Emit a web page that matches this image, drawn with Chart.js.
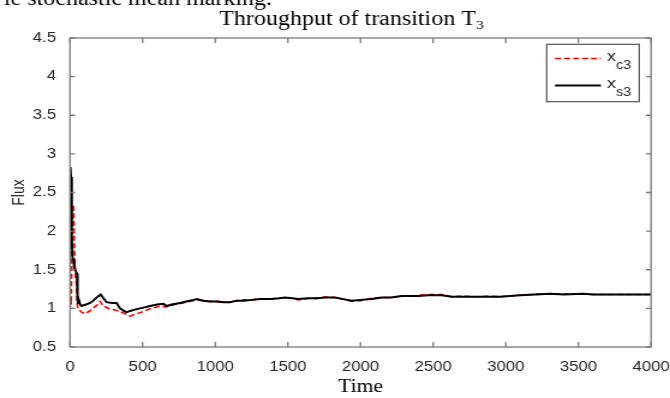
<!DOCTYPE html>
<html>
<head>
<meta charset="utf-8">
<title>Throughput of transition T3</title>
<script src="https://cdn.jsdelivr.net/npm/chart.js"></script>
<style>
  html, body { margin: 0; padding: 0; background: #fff; overflow: hidden; }
  #wrap { width: 558px; height: 398px; transform: scaleX(1.2007); transform-origin: 0 0; }
</style>
</head>
<body>
<div id="wrap"><canvas id="flux" width="558" height="398"></canvas></div>
<script>
// x axis ticks and y axis ticks
const timeTicks = [0, 500, 1000, 1500, 2000, 2500, 3000, 3500, 4000];
const fluxTicks = [0.5, 1, 1.5, 2, 2.5, 3, 3.5, 4, 4.5];

// x_c3 (red dashed)
const timeC3 = [
  0, 4, 8, 12, 16, 20, 23, 27, 32, 38,
  42, 46, 50, 55, 63, 80, 103, 120, 138, 170,
  190, 207, 230, 275, 310, 344, 380, 413, 460, 505,
  560, 620, 666, 700, 757, 800, 850, 872, 918, 960,
  1010, 1060, 1102, 1148, 1200, 1250, 1308, 1380, 1440, 1480,
  1530, 1572, 1641, 1700, 1760, 1824, 1880, 1939, 2000, 2077,
  2146, 2210, 2283, 2350, 2400, 2466, 2558, 2628, 2700, 2800,
  2880, 2960, 3030, 3098, 3200, 3305, 3400, 3533, 3600, 3695,
  3800, 3900, 4000
];
const fluxC3 = [
  1.00, 1.15, 1.05, 1.60, 2.00, 2.25, 2.34, 2.10, 1.70, 1.38,
  1.35, 1.30, 1.05, 1.00, 0.98, 0.95, 0.93, 0.95, 0.97, 1.02,
  1.05, 1.09, 1.03, 0.99, 0.98, 0.96, 0.93, 0.90, 0.93, 0.96,
  1.00, 1.03, 1.02, 1.04, 1.06, 1.08, 1.10, 1.11, 1.10, 1.09,
  1.09, 1.08, 1.08, 1.10, 1.11, 1.11, 1.12, 1.12, 1.13, 1.14,
  1.13, 1.11, 1.13, 1.13, 1.15, 1.14, 1.12, 1.09, 1.10, 1.13,
  1.14, 1.14, 1.16, 1.16, 1.17, 1.18, 1.18, 1.15, 1.16, 1.15,
  1.16, 1.15, 1.16, 1.17, 1.18, 1.19, 1.19, 1.19, 1.18, 1.18,
  1.18, 1.18, 1.18
];

// x_s3 (black solid)
const timeS3 = [
  2, 6, 10, 14, 18, 24, 30, 36, 42, 48,
  52, 56, 62, 70, 80, 92, 110, 138, 160, 184,
  211, 230, 252, 290, 321, 344, 370, 390, 420, 459,
  505, 551, 600, 643, 666, 700, 757, 800, 850, 872,
  918, 960, 1010, 1060, 1102, 1148, 1200, 1250, 1308, 1380,
  1440, 1480, 1530, 1572, 1641, 1700, 1760, 1824, 1880, 1939,
  2000, 2077, 2146, 2210, 2283, 2350, 2400, 2466, 2558, 2628,
  2700, 2800, 2880, 2960, 3030, 3098, 3200, 3305, 3400, 3533,
  3600, 3695, 3800, 3900, 4000
];
const fluxS3 = [
  2.83, 2.70, 2.30, 1.90, 1.65, 1.62, 1.52, 1.50, 1.47, 1.45,
  1.12, 1.07, 1.10, 1.05, 1.03, 1.04, 1.05, 1.07, 1.10, 1.14,
  1.18, 1.13, 1.08, 1.07, 1.07, 1.00, 0.97, 0.95, 0.97, 0.99,
  1.01, 1.03, 1.05, 1.06, 1.03, 1.05, 1.07, 1.09, 1.11, 1.12,
  1.10, 1.09, 1.09, 1.08, 1.08, 1.10, 1.10, 1.11, 1.12, 1.12,
  1.13, 1.14, 1.13, 1.12, 1.13, 1.13, 1.14, 1.14, 1.12, 1.10,
  1.11, 1.12, 1.14, 1.14, 1.16, 1.16, 1.16, 1.17, 1.17, 1.15,
  1.15, 1.15, 1.15, 1.15, 1.16, 1.17, 1.18, 1.19, 1.18, 1.19,
  1.18, 1.18, 1.18, 1.18, 1.18
];

const sans = "'Liberation Sans', Arial, sans-serif";
const serif = "'Liberation Serif', 'Times New Roman', serif";
const textGray = '#262626';
const frameGray = '#7a7a7a';

// matlab style box, inward ticks, title, legend with subscripts
const matlabFrame = {
  id: 'matlabFrame',
  afterDatasetsDraw(chart) {
    const { ctx, chartArea: a, scales } = chart;
    ctx.save();
    ctx.strokeStyle = frameGray;
    ctx.lineWidth = 1.3;
    ctx.strokeRect(a.left, a.top, a.right - a.left, a.bottom - a.top);
    ctx.beginPath();
    timeTicks.forEach(t => {
      const x = scales.x.getPixelForValue(t);
      ctx.moveTo(x, a.bottom); ctx.lineTo(x, a.bottom - 5);
      ctx.moveTo(x, a.top); ctx.lineTo(x, a.top + 5);
    });
    fluxTicks.forEach(v => {
      const y = scales.y.getPixelForValue(v);
      ctx.moveTo(a.left, y); ctx.lineTo(a.left + 4.2, y);
      ctx.moveTo(a.right, y); ctx.lineTo(a.right - 4.2, y);
    });
    ctx.stroke();

    // legend
    const lx = 455.3, ly = 44.3, lw = 77.1, lh = 57.4;
    ctx.fillStyle = '#fff';
    ctx.fillRect(lx, ly, lw, lh);
    ctx.strokeStyle = '#555';
    ctx.lineWidth = 1.2;
    ctx.strokeRect(lx, ly, lw, lh);
    const rows = [
      { y: 58.5, color: '#ff0000', dash: [5, 2.5], width: 1.6, sub: 'c3' },
      { y: 85.5, color: '#000000', dash: [], width: 2, sub: 's3' }
    ];
    rows.forEach(r => {
      ctx.beginPath();
      ctx.setLineDash(r.dash);
      ctx.strokeStyle = r.color;
      ctx.lineWidth = r.width;
      ctx.moveTo(462.2, r.y); ctx.lineTo(500.5, r.y);
      ctx.stroke();
      ctx.setLineDash([]);
      ctx.fillStyle = textGray;
      ctx.textAlign = 'left';
      ctx.textBaseline = 'alphabetic';
      ctx.font = '15px ' + sans;
      ctx.fillText('x', 505.5, r.y + 2.5);
      ctx.font = '12px ' + sans;
      ctx.fillText(r.sub, 513, r.y + 10.5);
    });

    // title with subscript
    ctx.fillStyle = '#000';
    ctx.textBaseline = 'alphabetic';
    ctx.font = '20px ' + serif;
    const main = 'Throughput of transition T';
    ctx.font = '20px ' + serif;
    const wMain = ctx.measureText(main).width;
    ctx.font = '13px ' + serif;
    const wSub = ctx.measureText('3').width;
    const tx = 292.7 - (wMain + wSub) / 2;
    ctx.font = '20px ' + serif;
    ctx.textAlign = 'left';
    ctx.fillText(main, tx, 24.7);
    ctx.font = '13px ' + serif;
    ctx.fillText('3', tx + wMain, 28.5);

    // page text cut off above the figure
    ctx.font = '20px ' + serif;
    ctx.fillText('le stochastic mean marking.', 3.3, 5);
    ctx.restore();
  }
};

const tickFont = { family: sans, size: 14 };

new Chart(document.getElementById('flux'), {
  type: 'line',
  data: {
    datasets: [
      {
        label: 'x_c3',
        data: timeC3.map((t, i) => ({ x: t, y: fluxC3[i] })),
        borderColor: '#ff0000',
        borderWidth: 1.6,
        borderDash: [5, 2.5],
        pointRadius: 0,
        tension: 0,
        order: 1
      },
      {
        label: 'x_s3',
        data: timeS3.map((t, i) => ({ x: t, y: fluxS3[i] })),
        borderColor: '#000000',
        borderWidth: 2,
        pointRadius: 0,
        tension: 0,
        order: 0
      }
    ]
  },
  options: {
    responsive: false,
    animation: false,
    devicePixelRatio: 1,
    layout: { padding: { top: 38, right: 15.8, left: 0, bottom: 0 } },
    plugins: {
      legend: { display: false },
      tooltip: { enabled: false },
      title: { display: false }
    },
    scales: {
      x: {
        type: 'linear',
        min: 0,
        max: 4000,
        afterBuildTicks(s) { s.ticks = timeTicks.map(v => ({ value: v })); },
        ticks: {
          font: tickFont,
          color: textGray,
          padding: 4,
          maxRotation: 0,
          autoSkip: false,
          callback: v => String(v)
        },
        grid: { display: false },
        border: { display: false },
        title: {
          display: true,
          text: 'Time',
          color: '#000',
          font: { family: serif, size: 18 },
          padding: { top: 0, bottom: 0 }
        },
        afterFit(s) { s.height = 51; s.paddingLeft = 0; s.paddingRight = 0; }
      },
      y: {
        type: 'linear',
        min: 0.5,
        max: 4.5,
        afterBuildTicks(s) { s.ticks = fluxTicks.map(v => ({ value: v })); },
        ticks: {
          font: tickFont,
          color: textGray,
          padding: 3.5,
          autoSkip: false,
          callback: v => String(v)
        },
        grid: { display: false },
        border: { display: false },
        title: {
          display: true,
          text: 'Flux',
          color: textGray,
          font: { family: sans, size: 14 },
          padding: { top: 8, bottom: 0 }
        },
        afterFit(s) { s.width = 58.3; s.paddingTop = 0; s.paddingBottom = 0; }
      }
    }
  },
  plugins: [matlabFrame]
});
</script>
</body>
</html>
